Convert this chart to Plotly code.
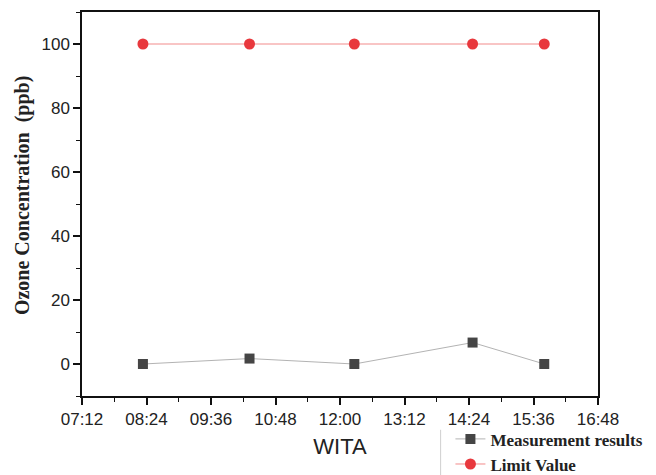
import plotly.graph_objects as go

times = ["2024-01-01 08:20", "2024-01-01 10:19", "2024-01-01 12:16", "2024-01-01 14:28", "2024-01-01 15:48"]
measurement = [0, 1.7, 0, 6.7, 0]
limit_value = [100, 100, 100, 100, 100]

fig = go.Figure()
fig.add_trace(go.Scatter(
    x=times, y=measurement, name="<b>Measurement results</b>", mode="lines+markers",
    legendgroup="m",
    line=dict(color="#b3b3b3", width=1),
    marker=dict(symbol="square", size=10, color="#454545"),
))
fig.add_trace(go.Scatter(
    x=times, y=limit_value, name="<b>Limit Value</b>", mode="lines+markers",
    legendgroup="l",
    line=dict(color="#f28b8b", width=1),
    marker=dict(symbol="circle", size=11, color="#e8383d"),
))

tick_font = dict(family="Liberation Sans, Arial", size=17, color="#222")
fig.update_layout(
    width=656, height=475,
    margin=dict(l=82, r=58, t=12, b=79, autoexpand=False),
    plot_bgcolor="white", paper_bgcolor="white",
    showlegend=True,
    legend=dict(
        x=0.714, y=-0.066, xanchor="left", yanchor="top",
        font=dict(family="Liberation Serif, Times New Roman", size=17, color="#222"),
        bgcolor="rgba(0,0,0,0)", tracegroupgap=0,
    ),
    xaxis=dict(
        type="date", automargin=False,
        range=["2024-01-01 07:12", "2024-01-01 16:48"],
        tick0="2024-01-01 07:12", dtick=72 * 60 * 1000, tickformat="%H:%M",
        showline=True, linecolor="#111", linewidth=1.5, mirror=True,
        ticks="outside", ticklen=7, tickwidth=1.5, tickcolor="#111",
        minor=dict(dtick=36 * 60 * 1000, ticks="outside", ticklen=4, tickwidth=1.2, tickcolor="#111", showgrid=False),
        showgrid=False, zeroline=False,
        tickfont=tick_font,
        title=dict(text="WITA", font=dict(family="Liberation Sans, Arial", size=22, color="#222"), standoff=10),
    ),
    yaxis=dict(
        range=[-10, 110], automargin=False,
        tick0=0, dtick=20,
        showline=True, linecolor="#111", linewidth=1.5, mirror=True,
        ticks="outside", ticklen=7, tickwidth=1.5, tickcolor="#111",
        minor=dict(dtick=10, ticks="outside", ticklen=4, tickwidth=1.2, tickcolor="#111", showgrid=False),
        showgrid=False, zeroline=False,
        tickfont=tick_font,
    ),
    annotations=[dict(
        text="<b>Ozone Concentration  (ppb)</b>", textangle=-90,
        xref="paper", yref="paper", x=-0.114, y=0.521, xanchor="center", yanchor="middle",
        showarrow=False,
        font=dict(family="Liberation Serif, Times New Roman", size=20, color="#222"),
    )],
    shapes=[dict(type="line", xref="paper", yref="paper", x0=0.695, x1=0.695, y0=-0.088, y1=-0.21,
                 line=dict(color="#cfcfcf", width=1))],
)

fig.write_html("out.html", post_script="document.body.style.margin='0px';",
               config={"displayModeBar": False})
